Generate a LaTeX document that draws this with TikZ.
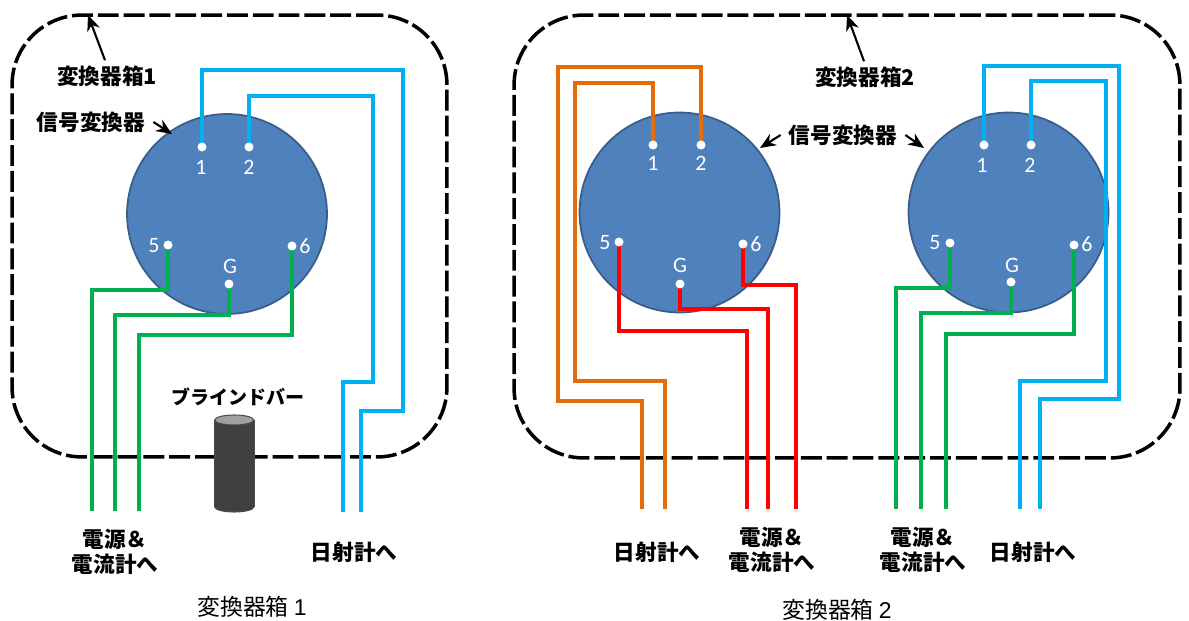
\documentclass[tikz,border=0pt]{standalone}
\usepackage{fontspec}
\setmainfont{Liberation Sans}
\newfontfamily\cjk{Noto Sans CJK JP}
\newfontfamily\pinfont{Carlito}
\usetikzlibrary{shapes.geometric,arrows.meta}

\definecolor{plate}{RGB}{79,129,189}
\definecolor{plateedge}{RGB}{56,93,138}
\definecolor{wireblue}{RGB}{0,176,240}
\definecolor{wiregreen}{RGB}{0,176,80}
\definecolor{wireorange}{RGB}{228,108,10}
\definecolor{barbody}{RGB}{64,64,64}
\definecolor{bartop}{RGB}{160,160,160}

\tikzset{
  boxline/.style={draw,rectangle,line width=2pt,rounded corners=1.4cm,
    dash pattern=on 11.9pt off 2.8pt,inner sep=0pt},
  plateshape/.style={circle,draw=plateedge,fill=plate,line width=1pt,
    minimum size=4cm,inner sep=0pt},
  pin/.style={circle,fill=white,minimum size=.18cm,inner sep=0pt},
  pinlabel/.style={text=white,font=\pinfont\fontsize{12.5}{12.5}\selectfont,inner sep=0pt},
  tag/.style={font=\cjk\bfseries\fontsize{12.3}{14}\selectfont,inner sep=0pt,align=center},
  caption/.style={font=\cjk\fontsize{13}{15}\selectfont,inner sep=0pt},
  wire/.style={line width=1.9pt,line join=miter},
  pointer/.style={line width=1.2pt,-{Stealth[length=9pt,width=7.5pt]}},
  barend/.style={ellipse,draw=black!70,line width=.6pt,inner sep=0pt,
    minimum width=.78cm,minimum height=.2cm}
}

\begin{document}
\begin{tikzpicture}[x=0.02cm,y=-0.02cm]
  \useasboundingbox (0,0) rectangle (1189,621);

  % boxes
  \node (box1) [boxline,minimum width=8.7cm,minimum height=8.84cm] at (229.5,236) {};
  \node (box2) [boxline,minimum width=13.32cm,minimum height=8.86cm] at (847,236.5) {};

  % bar
  \node (barfoot) [barend,fill=barbody] at (234.25,507) {};
  \node (barbody) [rectangle,fill=barbody,minimum width=.78cm,minimum height=1.74cm,inner sep=0pt] at (234.25,463.5) {};
  \draw[black!70,line width=.6pt] (barbody.north west) -- (barbody.south west);
  \draw[black!70,line width=.6pt] (barbody.north east) -- (barbody.south east);
  \node (barhead) [barend,fill=bartop] at (234.25,420) {};

  % plates
  \node (plateA) [plateshape] at (227,214) {};
  \node (plateB) [plateshape] at (679.5,212.5) {};
  \node (plateC) [plateshape] at (1008.5,212.5) {};

  % pins
  \foreach \name/\px/\py in {a1/202/147,a2/249/147,a5/168/245,a6/292/246,aG/229/284,
      b1/653/145,b2/701/145,b5/619/242,b6/743/244,bG/680/284,
      c1/984/145,c2/1031/145,c5/950/243,c6/1074/245,cG/1011/282}
    \coordinate (\name) at (\px,\py);

  % pin labels
  \foreach \name/\px/\py/\txt in {la1/201/167/1,la2/249/167/2,la5/154/246/5,la6/305/246/6,laG/230/266/G,
      lb1/653/163/1,lb2/701/163/2,lb5/605/243/5,lb6/756/244/6,lbG/680/265/G,
      lc1/982/165/1,lc2/1030/165/2,lc5/935/243/5,lc6/1087/244/6,lcG/1012/265/G}
    \node (\name) [pinlabel] at (\px,\py) {\txt};

  % free ends of the wires
  \foreach \name/\px/\py in {ea1/361/512,ea2/343/512,ea5/92/511,eaG/115/511,ea6/139/511,
      eb1/665/509,eb2/642/509,eb5/747/509,ebG/768/509,eb6/796/509,
      ec1/1040/509,ec2/1020/509,ec5/896/509,ecG/921/509,ec6/946/509}
    \coordinate (\name) at (\px,\py);

  % wires
  \draw[wire,wireblue] (a1) |- (403,70) |- (361,411) -- (ea1);
  \draw[wire,wireblue] (a2) |- (373,96) |- (343,382) -- (ea2);
  \draw[wire,wiregreen] (a5) |- (92,290) -- (ea5);
  \draw[wire,wiregreen] (aG) |- (115,315) -- (eaG);
  \draw[wire,wiregreen] (a6) |- (139,335) -- (ea6);

  \draw[wire,wireorange] (b1) |- (575,83) |- (665,381) -- (eb1);
  \draw[wire,wireorange] (b2) |- (558,67) |- (642,401) -- (eb2);
  \draw[wire,red] (b5) |- (747,331) -- (eb5);
  \draw[wire,red] (bG) |- (768,309) -- (ebG);
  \draw[wire,red] (b6) |- (796,285) -- (eb6);

  \draw[wire,wireblue] (c1) |- (1119,66) |- (1040,399) -- (ec1);
  \draw[wire,wireblue] (c2) |- (1106,81) |- (1020,381) -- (ec2);
  \draw[wire,wiregreen] (c5) |- (896,288) -- (ec5);
  \draw[wire,wiregreen] (cG) |- (921,313) -- (ecG);
  \draw[wire,wiregreen] (c6) |- (946,334) -- (ec6);

  % pin dots, over the wire ends
  \foreach \name in {a1,a2,a5,a6,aG,b1,b2,b5,b6,bG,c1,c2,c5,c6,cG}
    \node (dot\name) [pin] at (\name) {};

  % texts
  \node (tagbox1) [tag] at (107,76) {変換器箱1};
  \node (tagbox2) [tag] at (865,77) {変換器箱2};
  \node (tagconvA) [tag] at (91,122) {信号変換器};
  \node (tagconvB) [tag] at (843,135) {信号変換器};
  \node (tagbar) [tag,font=\cjk\bfseries\fontsize{10.8}{12}\selectfont] at (238,397) {ブラインドバー};
  \node (tagpowA) [tag] at (115,552) {電源＆\\電流計へ};
  \node (tagpowB) [tag] at (772,550) {電源＆\\電流計へ};
  \node (tagpowC) [tag] at (923,550) {電源＆\\電流計へ};
  \node (tagsunA) [tag] at (354,552) {日射計へ};
  \node (tagsunB) [tag] at (657,552) {日射計へ};
  \node (tagsunC) [tag] at (1033,552) {日射計へ};
  \node (captionA) [caption] at (252,607) {変換器箱 {\normalfont 1}};
  \node (captionB) [caption] at (837,610) {変換器箱 {\normalfont 2}};

  % pointers
  \coordinate (tipbox1) at (88,15);
  \coordinate (tipbox2) at (847,15);
  \coordinate (tipA) at (172,134);
  \coordinate (tipB) at (760,148);
  \coordinate (tipC) at (924,148);
  \draw[pointer] (tagbox1.north) ++(-2,-5) -- (tipbox1);
  \draw[pointer] (tagbox2.north) ++(-1,-5) -- (tipbox2);
  \draw[pointer] (tagconvA.east) ++(8,0) -- (tipA);
  \draw[pointer] (tagconvB.west) ++(-8,0) -- (tipB);
  \draw[pointer] (tagconvB.east) ++(8,0) -- (tipC);

\end{tikzpicture}
\end{document}
